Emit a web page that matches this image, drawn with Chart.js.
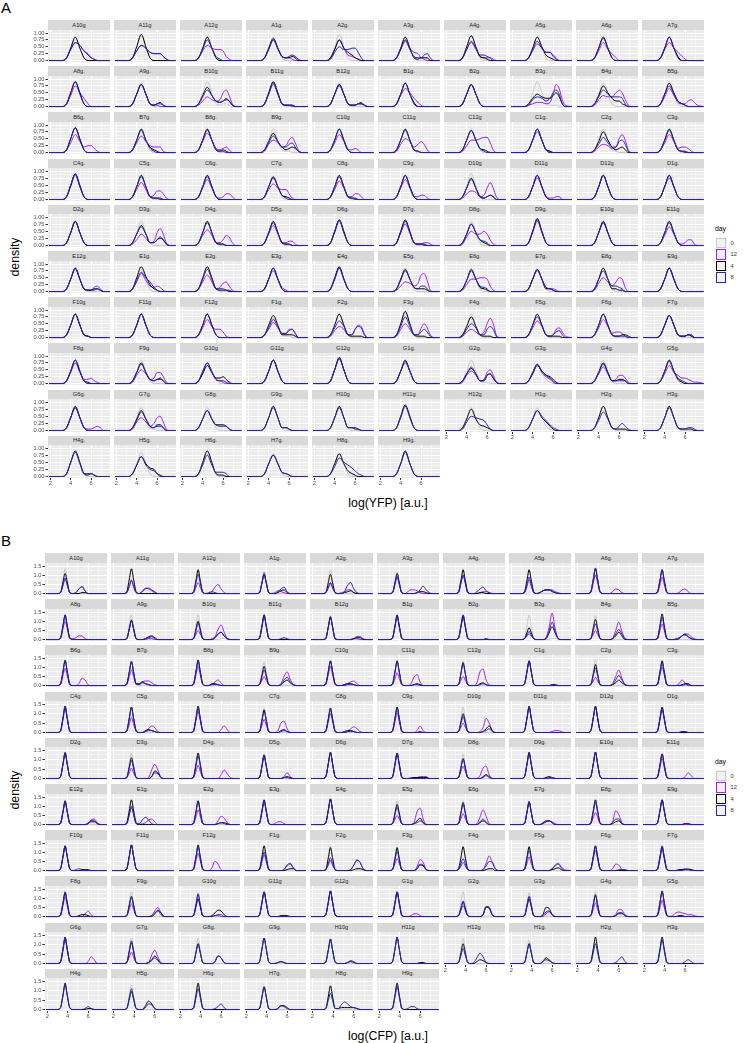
<!DOCTYPE html>
<html>
<head>
<meta charset="utf-8">
<script src="https://cdn.jsdelivr.net/npm/chart.js@4.4.1/dist/chart.umd.min.js"></script>
<style>
  body { margin: 0; background: #fff; font-family: "Liberation Sans", Arial, sans-serif; }
  #fig { position: relative; width: 745px; height: 1043px; overflow: hidden; }
  #fig canvas { position: absolute; }
  .strip { position: absolute; background: #d9d9d9; color: #1a1a1a; font-size: 5.7px; text-align: center; white-space: nowrap; }
  .tag { position: absolute; left: 1px; font-size: 15px; color: #000; }
  .xtitle { position: absolute; width: 200px; margin-left: -100px; text-align: center; font-size: 12.3px; color: #000; }
  .ytitle { position: absolute; width: 80px; margin-left: -40px; text-align: center; font-size: 12.3px; color: #000; transform: rotate(-90deg); }
  .legtitle { position: absolute; font-size: 6.8px; color: #000; }
  .key { position: absolute; width: 11px; height: 11.5px; background: #f2f2f2; }
  .key div { position: absolute; left: 0.5px; top: 0.5px; right: 0.5px; bottom: 0.5px; border: 1px solid; }
  .keylab { position: absolute; font-size: 5.7px; color: #333; }
</style>
</head>
<body>
<div id="fig"></div>
<script>
// facets, in the order ggplot laid them out (10 per row)
const facetNames = [
  'A10g','A11g','A12g','A1g.','A2g.','A3g.','A4g.','A5g.','A6g.','A7g.',
  'A8g.','A9g.','B10g','B11g','B12g','B1g.','B2g.','B3g.','B4g.','B5g.',
  'B6g.','B7g.','B8g.','B9g.','C10g','C11g','C12g','C1g.','C2g.','C3g.',
  'C4g.','C5g.','C6g.','C7g.','C8g.','C9g.','D10g','D11g','D12g','D1g.',
  'D2g.','D3g.','D4g.','D5g.','D6g.','D7g.','D8g.','D9g.','E10g','E11g',
  'E12g','E1g.','E2g.','E3g.','E4g.','E5g.','E6g.','E7g.','E8g.','E9g.',
  'F10g','F11g','F12g','F1g.','F2g.','F3g.','F4g.','F5g.','F6g.','F7g.',
  'F8g.','F9g.','G10g','G11g','G12g','G1g.','G2g.','G3g.','G4g.','G5g.',
  'G6g.','G7g.','G8g.','G9g.','H10g','H11g','H12g','H1g.','H2g.','H3g.',
  'H4g.','H5g.','H6g.','H7g.','H8g.','H9g.'
];

const days = ['0', '12', '4', '8'];
const dayColours = ['#c9c9c9', '#a020f0', '#000000', '#2424b0'];

const xTicks = [2, 3, 4, 5, 6, 7];

const yfpKnots = [1.9, 3.2, 3.6, 4.0, 4.45, 4.9, 5.3, 5.7, 6.0, 6.3, 6.6, 6.9, 7.2, 7.8];
const cfpKnots = [1.9, 3.0, 3.3, 3.55, 3.75, 3.95, 4.2, 4.5, 4.8, 5.1, 5.4, 5.7, 6.0, 6.3, 6.6, 6.9, 7.2, 7.8];

// densities: one character per knot, base 36, in steps of 0.05
// ('0' = 0, 'a' = 0.5, 'k' = 1.0, 'u' = 1.5); '' = no curve for that day
const yfpDay0 = [
  "0029g920000000","002aia20000000","0029h920000000","0029h920000000","002aja20000000","0029h920000000","002aia20000000","0029h920000000","0029h920000000","0029h920000000",
  "002aia20000000","0029h920000000","002aia21221000","002aia20000000","0029h920000000","0029h920000000","0039f930000000","002aia31110000","0029h920000000","0029h920000000",
  "002aia20000000","0029h920000000","0029h920000000","0029h921100000","0029h920000000","0029h920000000","0029h920000000","0029h920000000","0029h921000000","0029h920000000",
  "002aia20000000","0029h920000000","0029h920000000","0029g920000000","0029g920000000","0029h920000000","002aia20000000","0029h920000000","0029h920000000","0029h920000000",
  "0029h920000000","0029h920000000","0029h920000000","0029h920000000","002aia20000000","0029h920000000","0029h920000000","002aia20000000","0029h920000000","0029h920000000",
  "0029h920000000","0029g920000000","0029h920000000","0029h920000000","0029h920000000","0029h920000000","0029h920000000","0029g920000000","0029h920000000","0029h920000000",
  "0029h921000000","0029h920000000","0029h920000000","0028e821100000","0029h920000000","002aia20000000","0029h920000000","0029g920000000","0029h920000000","0029g920000000",
  "0029h920000000","0029h920000000","0028e830000000","0029h920000000","002aia20000000","0029g920000000","0029h921100000","0028e831000000","0029h920000000","0029h920000000",
  "0029h920000000","0029g921000000","0029g920000000","0029h920000000","0029g920000000","0029h920000000","0029g920000000","0029g931000000","0029h920000000","0029h920000000",
  "0029h920000000","0029h920000000","0029h920000000","0029g920000000","0029g920000000","0029h920000000"
];
const yfpDay12 = [
  "0028db75210000","0027b965553100","0027b988731000","0028f832210000","0028f943210000","0028e965210000","0028d832221000","0027c966420000","0027d852000000","0028d963100000",
  "0028fa62000000","0029g921100000","00147545ac8200","0029g921100000","0029g921122100","0028da63100000","0029g920000000","001233239gd510","0015877aca5100","0027d832245310",
  "0027d845531000","0027c854441000","0028e932342000","001697459b7200","0027d822320000","0016a846862000","001599abb72000","0029f921000000","00146534ad9200","0027d834431000",
  "0029h920000000","0027c723664100","0028e821244200","0027b877410000","0027d822442000","0028e822331000","001465238c8200","0029f921122000","0029h920000000","0029f920000000",
  "0029h920000000","001485239c8200","0027b722476200","0028e822331000","0029h920000000","0029f921122100","0016a88a841000","0029h920000000","0029g920000000","0027d821244100",
  "0029g921134200","0027d843431000","0027c723674100","0029f931000000","0029h920000000","00147646cd8100","001599aa941000","0029f932210000","0016a747a93000","0029h920000000",
  "0029h921000000","0029h920000000","0027d866410000","0026b733663000","00158622698300","0016a6227a7200","00146424aea200","0027c821267410","0027d834431000","0029g921122000",
  "0028f833421000","0016a734885100","0028f932100000","0029h920000000","002aia20000000","0029f920000000","001696238a6100","0028e853100000","0027c723664100","0027d864432110",
  "0029g921123200","001696359a6100","","","","","","","","",
  "","","","","",""
];
const yfpDay4 = [
  "0029h920000000","002aja20000000","0029h920000000","0029g932232000","0028f964210000","0029h921222000","002aia32100000","0029ha42100000","0029h920000000","0029h930000000",
  "002aia20000000","0029g921231000","0028e843454100","002aia21110000","0029g921122100","0029h930000000","0029g920000000","002697668a7200","0028fa64421000","0029ha42100000",
  "002aia20000000","0029h942100000","0029h921210000","0028e842343100","0029h920000000","0029h921000000","0029g932100000","0029h921000000","0028f942342000","0029h921100000",
  "002aia20000000","0029h921110000","0029h920000000","0029g932100000","0029h921100000","0029h920000000","0028f821232000","0029h920000000","0029h920000000","0029h920000000",
  "0029h920000000","0028e822464100","0029h921100000","0029h921100000","002aia20000000","002aia21110000","0028f942100000","002aja20000000","0029h920000000","0029h920000000",
  "0029h921122100","002aib52100000","002aia21110000","0029h920000000","002ai920000000","0029g932221000","0028g932100000","0029g922100000","0029h922110000","0029h920000000",
  "0029h921000000","0029h920000000","0029h920000000","0029g922221000","0029h921111000","002aja21110000","0028f821110000","0029h921111000","0029h921122100","0029g921121000",
  "0029h921000000","0028f832342000","0027d844531000","0029h920000000","002aja20000000","0029h920000000","0027b722674100","0027d965310000","0028f822332000","0029h931000000",
  "0029h920000000","0028e832442000","0028e844431000","0029h922100000","0029h922110000","002aia20000000","0028f843210000","0028e963100000","0029h921111000","0029h921111000",
  "002aia21210000","0028e965210000","002aia21100000","0029f932100000","0029g942100000","0029i920000000"
];
const yfpDay8 = [
  "0028db74210000","0027b965553100","0028f931000000","0028f932343100","0016a889962000","0028f832245200","0028e944320000","0028e966310000","0029g920000000","0029h920000000",
  "002ai920000000","0029g921221000","0027c843464100","0029h921110000","0029f921123100","0029h920000000","0029g920000000","00157646ac9200","0027c977762000","0029f942100000",
  "002ai920000000","0029g931000000","0029g921100000","0027c844674100","0029h920000000","0029g921000000","0029g931000000","0029h920000000","0026b744896100","0029g921000000",
  "002ai920000000","0029g921100000","0029g920000000","0029f931000000","0029g921000000","0029h920000000","0028e821232000","0029h920000000","0029h920000000","0029h920000000",
  "0029h920000000","0028d822454100","0029g921100000","0029g921100000","002ai920000000","0029h921100000","0028f943200000","002aia20000000","0029g920000000","0029g920000000",
  "0029h921112100","0028ea73100000","0029g922211000","0029h920000000","0029h920000000","0028f932442000","0028f943200000","0029g932100000","0029f944320000","0029h920000000",
  "0029h921000000","0029h920000000","0029h920000000","0027d833563000","0027c822687200","0028f822464100","0016a722686100","0029f921245200","0029h921111000","0029g921122000",
  "0029h920000000","0028e832332000","0029f832210000","0029h920000000","002aia20000000","0029g920000000","0027c722674100","0028e964200000","0028e822222000","0029g942100000",
  "0029g920000000","0027d832332000","0028e843331000","0029g922100000","0029g922210000","0029h920000000","0016a987410000","0028ea74210000","0027d821353100","0029g921122100",
  "002ah922210000","0028e854200000","0028f833320000","0029f932100000","0027da86421000","0029h920000000"
];

const cfpDay0 = [
  "002grg200000000000","002grg200000000000","002fqf200000000000","001dnd100000000000","002fqf200000000000","001dnd100000000000","002fqf200000000000","002fqf200000000000","002grg200000000000","002fqf200000000000",
  "002grg200000000000","002grg200000000000","002grg200000110000","002gsg200000000000","002fqf200000000000","002grg200000000000","002grg200000000000","002grg200000110000","002fqf200000000000","002fqf200000000000",
  "002gsg200000000000","002gsg200000000000","002grg200000000000","002fqf200000000000","002grg200000000000","002grg200000000000","002grg200000000000","002grg200000000000","002gsg200000000000","002grg200000000000",
  "002gsg200000000000","002grg200000000000","002gsg200000000000","002fqf200000000000","002fqf200000000000","002grg200000000000","002grg200000000000","002gsg200000000000","002gsg200000000000","002grg200000000000",
  "002grg200000000000","002grg200000000000","002grg200000000000","002fqf200000000000","002grg200000000000","002grg200000000000","002fqf200000000000","002grg200000000000","002gsg200000000000","002grg200000000000",
  "002fqf200000000000","002fqf200000000000","002fqf200000000000","002grg200000000000","002gsg200000000000","002fqf200000000000","002fqf200000000000","002fqf200000000000","002fqf200000000000","002grg200000000000",
  "002grg200000000000","002gsg200000000000","002grg200000000000","001eoe100000000000","002grg200000000000","002fqf200000000000","002fqf200000000000","002grg200000000000","002grg200000000000","002fqf200000000000",
  "002grg200000000000","002grg200000000000","001epe100000000000","002grg200000000000","002gsg200000000000","002fqf200000000000","002grg200000000000","002fqf200000000000","002grg200000000000","002grg200000000000",
  "002gsg200000000000","002grg200000000000","002grg200000000000","002grg200000000000","002fqf200000000000","002gsg200000000000","002grg200000000000","001epe100000000000","002grg200000000000","002grg200000000000",
  "002gsg200000000000","002fqf200000000000","002grg200000000000","001epe100000000000","002fqf200000000000","002grg200000000000"
];
const cfpDay12 = [
  "0019g9101573000000","0018e8103653100000","0017c710027a510000","001dnd101321000000","0016b6101244100000","001aia102443100000","001ckc100012210000","0018f8101344421000","001ckc100025410000","001aia100014520000",
  "001ckc112441000000","001clc100011000000","0016a610013bg81000","001epe100000000000","001eoe100000110000","001eoe100000000000","001eoe100000000000","00146410002dtc1000","0016a610001aj91000","001aha100124663100",
  "001bjb100286100000","001aha114553100000","001clc100146300000","0016a610002af71000","001clc100124520000","0018e810029c400000","0016a61003fi610000","002fqf200000000000","00159510002ah81000","001ckc100026300000",
  "001epe100000000000","0019g9100147510000","001dmd100000373000","0018e81002ac400000","001ckc100014641000","001clc100002720000","0016a6100015fa2000","002fqf200000122100","002grg200000000000","001eoe100001100000",
  "002fqf200000000000","0016b6100019f91000","0018e8100000495100","001dnd100002620000","002grg200000000000","001epe100111222000","0018d810003bd40000","002fqf200000000000","002grg200000000000","001clc100000263000",
  "001eoe100000256200","001ckc101256300000","0019g9100004972000","001eoe101331000000","002grg200000000000","0016a610002ei60000","0017c710018g910000","001eoe100134310000","0018d810003fb20000","002fqf200000000000",
  "002fqf201210000000","002grg200000000000","001bjb1003a7100000","001aha100001573000","0016b61000016c9200","0018d8100004c91000","0015951000018g9200","0018f8100000268410","001dmd100027610000","001dnd100001221000",
  "001clc100003620000","0018e81000016a4000","001dnd100011000000","002fqf200000000000","002grg200000000000","001epe100133100000","0017c7100002ba2000","001dmd100035300000","0018f8100002872000","001aia101454322100",
  "001epe100000274000","0017c7100019e71000","","","","","","","","",
  "","","","","",""
];
const cfpDay4 = [
  "001dmd100011000000","002grg200000000000","002fqf200000000000","001clc100134100000","001clc100123100000","001dmd100001221000","002fqf200011000000","002fqf201344210000","002grg200000000000","002fqf200000000000",
  "002grg200000000000","001clc100134200000","001ckc100026841000","002grg200000000000","001epe100000122000","002grg200000000000","002fqf200000100000","0018d8100017e71000","001dmd100014840000","002gsg200014631000",
  "002grg200000000000","002fqf224210000000","002gsg200221000000","001clc100014631000","002grg200122100000","002grg200012100000","001epe100023100000","002grg200000110000","001dnd100013631000","002grg200001220000",
  "002gsg200000000000","002grg200232100000","002gsg200000000000","001eoe100023100000","002fqf200122100000","002grg200000100000","001ckc100001472000","002gsg200000000000","002gsg200000000000","002grg200000000000",
  "002grg200000000000","001dmd100002861000","002grg200000000000","001epe100001210000","002gsg200000000000","002grg200011111000","001clc100002420000","002gsg200012100000","002gsg200000000000","002fqf200000000000",
  "002fqf200000144100","002grg200000000000","002fqf200001221000","002grg200000000000","002gsg200000000000","001dmd100014720000","001eoe100024200000","001epe100244200000","002grg200013410000","002grg200000110000",
  "002grg200011100000","002gsg200000000000","002gsg200000000000","002grg200000122000","001epe100000122100","001epe100002651000","002fqf200000122000","002fqf200000123100","002grg200000000000","002fqf200011111000",
  "002fqf200122100000","001dmd100000374000","001bjb100147620000","002grg200011100000","002gsg200000000000","002grg200000000000","0019g9100002a92000","001bjb1002a9200000","001dnd100001441000","002gsg200011000000",
  "002gsg200000000000","001dmd100014840000","001clc100028610000","002grg200121000000","002fqf200012100000","002gsg200000110000","001clc100243100000","001clc100264100000","002gsg200000000000","002gsg200000000000",
  "002gsg200000110000","001bjb100496100000","002gsg200000000000","001eoe100144200000","001epe112222210000","002gsg200000000000"
];
const cfpDay8 = [
  "001aha101583000000","0018f8102564200000","001clc101210000000","001ckc100257200000","0017c710029c510000","001bjb100001484100","001ckc100257310000","001aia101344310000","002gsg200000000000","002fqf200000000000",
  "002fqf200000000000","001clc100123100000","001aia100026841000","002fqf200012100000","001eoe100000133100","002fqf200000000000","002grg200000000000","001595100019j91000","001aha100016b61000","001eoe100014531000",
  "002gsg200000000000","002fqf213210000000","002grg200111000000","001aha100016941000","002fqf200011100000","002fqf200011000000","001eoe100012100000","002grg200000000000","001bjb100016b61000","001epe100000110000",
  "002gsg200000000000","002fqf200122100000","002fqf200000000000","001dmd100012100000","001eoe100011100000","002fqf200000000000","001aha100001241000","002grg200000000000","002grg200000000000","002fqf200001100000",
  "002gsg200000000000","001bjb100002651000","001eoe100000000000","001epe100001100000","002grg200000000000","002grg200000000000","001clc100001310000","002grg200001100000","002gsg200000000000","002fqf200000000000",
  "001epe100000133100","001bjb115851000000","001epe100001210000","002fqf200000000000","002gsg200000000000","001bjb100012420000","001dmd100036300000","001epe100134200000","001eoe100026610000","002grg200000110000",
  "002grg200000000000","002gsg200000000000","002fqf200000000000","001ckc100001683000","0018e81000016b9200","001clc100002761000","0018d81000015a9200","001dmd100000257300","002fqf200000111000","002grg200000110000",
  "002grg200000000000","001clc100001462000","001epe100012200000","002grg200000000000","002gsg200000000000","002grg200000000000","001aha100002ba2000","001dmd100156200000","001eoe100001331000","002grg200000000000",
  "002gsg200000000000","001eoe100013630000","001clc100028610000","002grg200121000000","001epe100013200000","002grg200000000000","0019g91016b7100000","001clc100243100000","001clc100001472000","001epe100000242000",
  "002fqf200001310000","001dmd100265100000","001dmd100013620000","001eoe100143100000","001aha115863210000","001eoe101331000000"
];

//Layout of the two panels
const panels = [
  { tag: 'A', knots: yfpKnots, series: [yfpDay0, yfpDay12, yfpDay4, yfpDay8], xTitle: 'log(YFP) [a.u.]',
    left: 48, top: 20, dx: 66, plotW: 62, yMin: -0.053, yMax: 1.109,
    yTicks: [0, 0.125, 0.25, 0.375, 0.5, 0.625, 0.75, 0.875, 1], yStep: 0.25, yDigits: 2 },
  { tag: 'B', knots: cfpKnots, series: [cfpDay0, cfpDay12, cfpDay4, cfpDay8], xTitle: 'log(CFP) [a.u.]',
    left: 45, top: 553, dx: 66.3, plotW: 62.3, yMin: -0.0795, yMax: 1.669,
    yTicks: [0, 0.25, 0.5, 0.75, 1, 1.25, 1.5], yStep: 0.5, yDigits: 1 }
];
const rowPitch = 46.2, stripH = 9.5, plotH = 32.5;
const xMin = 1.78, xMax = 7.85;
const fontFamily = '"Liberation Sans", Arial, sans-serif';

const fig = document.getElementById('fig');

//Grey panel background behind the grid
const panelBg = {
  id: 'panelBg',
  beforeDraw(chart) {
    const { ctx, chartArea: a } = chart;
    ctx.save();
    ctx.fillStyle = '#ebebeb';
    ctx.fillRect(a.left, a.top, a.right - a.left, a.bottom - a.top);
    ctx.restore();
  }
};

function decode(str) {
  return [...str].map(ch => parseInt(ch, 36) * 0.05);
}

function isMultiple(v, step) {
  return Math.abs(v / step - Math.round(v / step)) < 1e-6;
}

function addDiv(cls, text, css) {
  const d = document.createElement('div');
  d.className = cls;
  if (text !== null) d.textContent = text;
  Object.assign(d.style, css);
  fig.appendChild(d);
  return d;
}

function drawFacet(p, i) {
  const col = i % 10, row = Math.floor(i / 10);
  const firstCol = col === 0;
  const bottom = i + 10 >= facetNames.length;

  const px = Math.round(p.left + col * p.dx);
  const pw = Math.round(p.left + col * p.dx + p.plotW) - px;
  const sy = Math.round(p.top + row * rowPitch);
  const py = Math.round(p.top + row * rowPitch + stripH);
  const ph = Math.round(p.top + row * rowPitch + stripH + plotH) - py;

  //Facet strip
  addDiv('strip', facetNames[i], {
    left: px + 'px', top: sy + 'px', width: pw + 'px', height: (py - sy) + 'px', lineHeight: (py - sy) + 'px'
  });

  const padL = firstCol ? 30 : 0;
  const padB = bottom ? 9 : 0;
  const canvas = document.createElement('canvas');
  canvas.width = pw + padL;
  canvas.height = ph + padB;
  canvas.style.left = (px - padL) + 'px';
  canvas.style.top = py + 'px';
  fig.appendChild(canvas);

  //One line per day; day 0 goes to the back and day 8 on top, as in the legend order
  const datasets = [];
  p.series.forEach((daySeries, d) => {
    const str = daySeries[i];
    if (!str) return;
    const vals = decode(str);
    datasets.push({
      label: days[d],
      data: p.knots.map((x, k) => ({ x: x, y: vals[k] || 0 })),
      borderColor: dayColours[d],
      borderWidth: 1,
      pointRadius: 0,
      fill: false,
      order: days.length - d,
      cubicInterpolationMode: 'monotone'
    });
  });

  new Chart(canvas, {
    type: 'line',
    data: { datasets },
    options: {
      responsive: false,
      animation: false,
      events: [],
      layout: { padding: 0 },
      plugins: { legend: { display: false }, tooltip: { enabled: false } },
      scales: {
        x: {
          type: 'linear', min: xMin, max: xMax,
          afterBuildTicks: s => { s.ticks = xTicks.map(v => ({ value: v })); },
          afterFit: s => { s.height = padB; s.paddingLeft = 0; s.paddingRight = 0; },
          border: { display: false },
          grid: {
            color: '#ffffff',
            lineWidth: c => (c.tick && isMultiple(c.tick.value, 2)) ? 1 : 0.5,
            drawTicks: bottom,
            tickLength: 2,
            tickColor: c => (c.tick && isMultiple(c.tick.value, 2)) ? '#333333' : 'rgba(0,0,0,0)'
          },
          ticks: {
            display: bottom, autoSkip: false, maxRotation: 0, minRotation: 0, padding: 0.5,
            color: '#4d4d4d', font: { size: 5.7, family: fontFamily },
            callback: v => isMultiple(v, 2) ? String(v) : ''
          }
        },
        y: {
          type: 'linear', min: p.yMin, max: p.yMax,
          afterBuildTicks: s => { s.ticks = p.yTicks.map(v => ({ value: v })); },
          afterFit: s => { s.width = padL; s.paddingTop = 0; s.paddingBottom = 0; },
          border: { display: false },
          grid: {
            color: '#ffffff',
            lineWidth: c => (c.tick && isMultiple(c.tick.value, p.yStep)) ? 1 : 0.5,
            drawTicks: firstCol,
            tickLength: 2.5,
            tickColor: c => (c.tick && isMultiple(c.tick.value, p.yStep)) ? '#333333' : 'rgba(0,0,0,0)'
          },
          ticks: {
            display: firstCol, autoSkip: false, padding: 1,
            color: '#4d4d4d', font: { size: 5.7, family: fontFamily },
            callback: v => isMultiple(v, p.yStep) ? v.toFixed(p.yDigits) : ''
          }
        }
      }
    },
    plugins: [panelBg]
  });
}

panels.forEach(p => {
  const off = p.top - 20;
  addDiv('tag', p.tag, { top: (off - 1) + 'px' });
  addDiv('ytitle', 'density', { left: '15px', top: (off + 250) + 'px' });
  addDiv('xtitle', p.xTitle, { left: '388px', top: (off + 496) + 'px' });

  //Legend
  addDiv('legtitle', 'day', { left: '715px', top: (off + 225) + 'px' });
  days.forEach((day, d) => {
    const ky = off + 237.3 + d * 11.5;
    const key = addDiv('key', null, { left: '715.7px', top: ky + 'px' });
    const inner = document.createElement('div');
    inner.style.borderColor = dayColours[d];
    key.appendChild(inner);
    addDiv('keylab', day, { left: '730.5px', top: (ky + 2.5) + 'px' });
  });

  facetNames.forEach((name, i) => drawFacet(p, i));
});
</script>
</body>
</html>
